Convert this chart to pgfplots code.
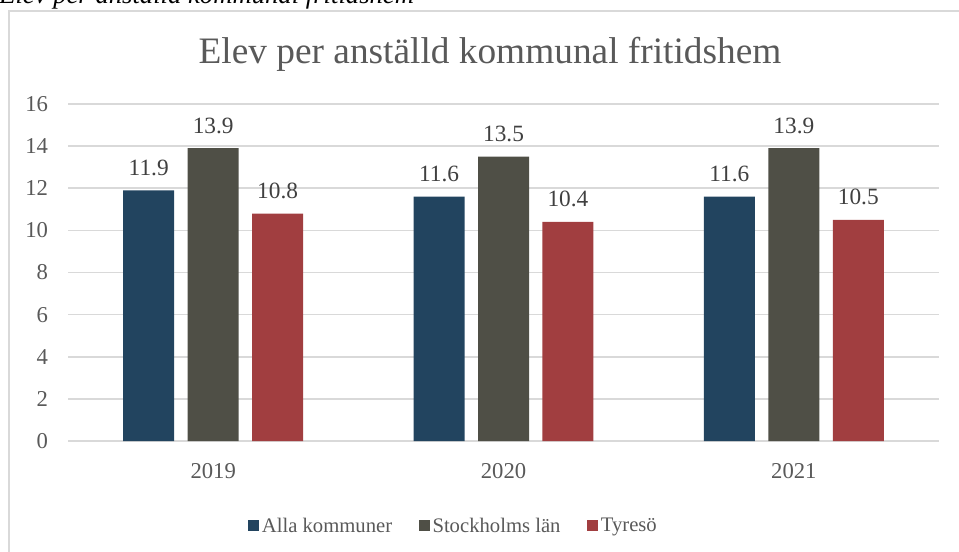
\documentclass[border=0pt]{standalone}
\usepackage{pgfplots}
\pgfplotsset{compat=1.18}
\usepackage{fontspec}
\setmainfont{Liberation Serif}
\definecolor{cA}{HTML}{22445F}
\definecolor{cB}{HTML}{4F4F46}
\definecolor{cC}{HTML}{A13E40}
\definecolor{gridc}{HTML}{D9D9D9}
\definecolor{txt}{HTML}{595959}
\definecolor{lbl}{HTML}{404040}
\begin{document}
\begin{tikzpicture}
\begin{scope}[x=0.75pt,y=0.75pt]
\useasboundingbox (0,0) rectangle (959,551);
\node[anchor=base west, inner sep=0pt, font=\fontsize{20}{20}\selectfont\itshape] at (-1,547) {Elev per anställd kommunal fritidshem};
\draw[gridc, line width=1.5pt] (9,-20) -- (9,540) -- (990,540);
\node[anchor=base, inner sep=0pt, font=\fontsize{28}{28}\selectfont, text=txt] at (490,551-64) {Elev per anställd kommunal fritidshem};
\end{scope}
\begin{axis}[
  at={(51pt,82.5pt)}, anchor=south west,
  scale only axis, width=653.25pt, height=252.75pt,
  ybar=10.1pt, bar width=38.25pt,
  xmin=-0.5, xmax=2.5, ymin=0, ymax=16,
  xtick={0,1,2}, xticklabels={2019,2020,2021},
  ytick={0,2,...,16},
  ymajorgrids, grid style={gridc, line width=1.2pt},
  axis line style={draw=none},
  major tick length=0pt,
  tick label style={font=\fontsize{17}{17}\selectfont, text=txt},
  xticklabel style={yshift=-13.5pt},
  yticklabel style={xshift=-11.5pt},
  /pgf/number format/assume math mode=true,
  nodes near coords,
  nodes near coords style={font=\fontsize{17.5}{17.5}\selectfont, text=lbl, yshift=7.5pt, /pgf/number format/.cd, fixed, precision=1, fixed zerofill, assume math mode=true},
  enlargelimits=false,
  clip=false,
  legend columns=-1,
  legend style={at={(0.443,-0.252)}, anchor=center, draw=none, fill=none,
    font=\fontsize{15.5}{15.5}\selectfont, text=txt,
    /tikz/every even column/.append style={column sep=18pt}},
]
\addplot[fill=cA, draw=none, legend image code/.code={\fill[cA] (0pt,-4.1pt) rectangle (8.25pt,4.1pt);}] coordinates {(0,11.9) (1,11.6) (2,11.6)};
\addlegendentry{Alla kommuner}
\addplot[fill=cB, draw=none, legend image code/.code={\fill[cB] (0pt,-4.1pt) rectangle (8.25pt,4.1pt);}] coordinates {(0,13.9) (1,13.5) (2,13.9)};
\addlegendentry{Stockholms län}
\addplot[fill=cC, draw=none, legend image code/.code={\fill[cC] (0pt,-4.1pt) rectangle (8.25pt,4.1pt);}] coordinates {(0,10.8) (1,10.4) (2,10.5)};
\addlegendentry{Tyresö}
\end{axis}
\end{tikzpicture}
\end{document}
